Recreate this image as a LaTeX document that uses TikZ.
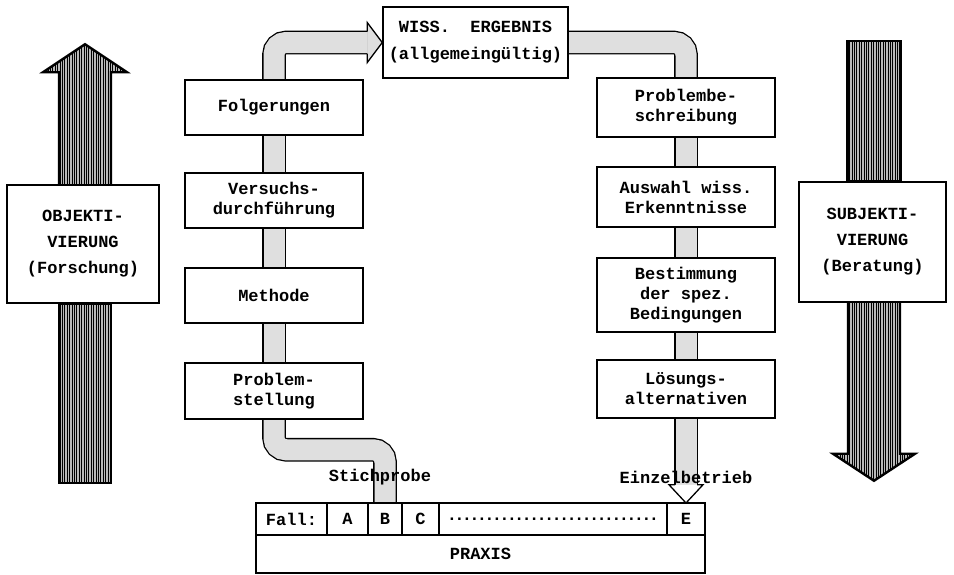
\documentclass[tikz,border=0pt]{standalone}
\usepackage{fontspec}
\setmainfont{Liberation Mono}
\usetikzlibrary{calc,backgrounds,patterns.meta}

\begin{document}
\begin{tikzpicture}[
    x=1pt, y=-1pt,
    every node/.style={font=\bfseries\fontsize{17}{20}\selectfont},
    stepbox/.style={draw, line width=1.5pt, fill=white, minimum width=178, align=center, inner sep=0pt},
    sidebox/.style={draw, line width=1.5pt, fill=white, align=center, inner sep=0pt,
        font=\bfseries\fontsize{17}{26}\selectfont},
    cell/.style={draw, line width=1.4pt, minimum height=32, inner sep=0pt, outer sep=0pt},
    pipe/.style={double=gray!25, double distance=21pt, line width=1.3pt, rounded corners=12pt},
    bigarrow/.style={draw, line width=2.4pt, preaction={fill=gray!55},
        pattern={Lines[angle=90,distance=2.4pt,line width=0.9pt]}}
]
\useasboundingbox (0,0) rectangle (954,574);

% result at the top
\node[stepbox, minimum width=185, minimum height=71, font=\bfseries\fontsize{17}{27}\selectfont]
    (wiss) at (475.5,42.5) {WISS.~~ERGEBNIS\\(allgemeingültig)};

% left column: research
\foreach \name/\y/\h/\txt in {folg/107.5/55/Folgerungen,
        vers/200.5/55/{Versuchs-\\durchführung},
        meth/295.5/55/Methode,
        prst/391/56/{Problem-\\stellung}}{
    \node[stepbox, minimum height=\h] (\name) at (274,\y) {\txt};
}

% right column: advice
\foreach \name/\y/\h/\txt in {pbes/107.5/59/{Problembe-\\schreibung},
        ausw/197/60/{Auswahl wiss.\\Erkenntnisse},
        best/295/74/{Bestimmung\\der spez.\\Bedingungen},
        loes/389/58/{Lösungs-\\alternativen}}{
    \node[stepbox, minimum height=\h] (\name) at (686,\y) {\txt};
}

% side boxes
\node[sidebox, minimum width=152, minimum height=118] (objb) at (83,244) {OBJEKTI-\\VIERUNG\\(Forschung)};
\node[sidebox, minimum width=147, minimum height=120] (subb) at (872.5,242) {SUBJEKTI-\\VIERUNG\\(Beratung)};

% practice table
\node[cell, minimum width=71, anchor=north west] (fall) at (256,503) {Fall:};
\foreach \name/\w/\txt [remember=\name as \prev (initially fall)] in {cA/41/A, cB/34/B, cC/37/C,
        cdots/228/{\makebox[214pt]{\dotfill}}, cE/38/E}{
    \node[cell, minimum width=\w, anchor=west] (\name) at (\prev.east) {\txt};
}
\node[cell, minimum width=449, minimum height=38, anchor=north west] (praxis) at (fall.south west) {PRAXIS};

\node (stich) at (380,477) {Stichprobe};
\node (einz) at (686,477) {Einzelbetrieb};

\begin{scope}[on background layer]
    % pipes between the boxes
    \foreach \a/\b in {folg/vers, vers/meth, meth/prst, pbes/ausw, ausw/best, best/loes}{
        \draw[pipe] (\a.south) -- (\b.north);
    }
    \coordinate (hbase) at ($(wiss.west)+(-15,0)$);
    \draw[pipe] (folg.north) |- (hbase);
    \filldraw[fill=gray!25, line width=1.3pt] ($(hbase)+(0,-11)$) -- ($(hbase)+(0,-20)$)
        -- (wiss.west) -- ($(hbase)+(0,20)$) -- ($(hbase)+(0,11)$);
    \draw[pipe] (wiss.east) -| (pbes.north);
    \draw[pipe] (prst.south) -- ++(0,30) -| (cB.north);
    \draw[pipe] (loes.south) -- ++(0,66) coordinate (ebase);
    \filldraw[fill=white, line width=1.3pt] ($(ebase)+(-11,0)$) -- ($(ebase)+(-17,0)$)
        -- (cE.north) -- ($(ebase)+(17,0)$) -- ($(ebase)+(11,0)$);

    % big arrows
    \coordinate (la) at ($(objb.north)+(2,0)$);
    \draw[bigarrow] ($(la)+(-26,0)$) -- ++(0,-112) -- ++(-16,0) -- ($(la)+(0,-140)$)
        -- ($(la)+(42,-112)$) -- ++(-16,0) -- ($(la)+(26,0)$);
    \draw[bigarrow] ($(objb.south)+(-24,0)$) rectangle ($(objb.south)+(28,179)$);
    \coordinate (ra) at ($(subb.south)+(1.5,0)$);
    \draw[bigarrow] ($(subb.north)+(-25,0)$) rectangle ($(subb.north)+(28,-140)$);
    \draw[bigarrow] ($(ra)+(-26,0)$) -- ++(0,151) -- ++(-15,0) -- ($(ra)+(0,178)$)
        -- ($(ra)+(41,151)$) -- ++(-15,0) -- ($(ra)+(26,0)$);
\end{scope}

\end{tikzpicture}
\end{document}
